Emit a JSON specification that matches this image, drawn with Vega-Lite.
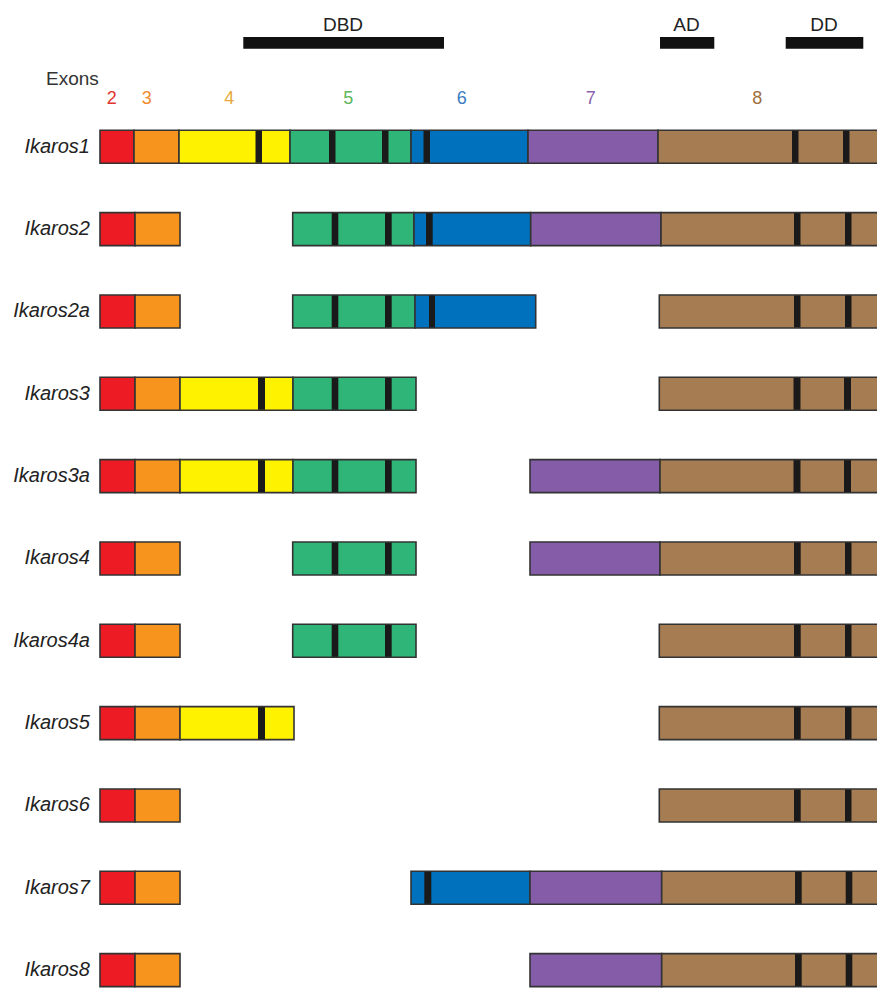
{
  "$schema": "https://vega.github.io/schema/vega-lite/v6.json",
  "width": 877,
  "height": 990,
  "autosize": "none",
  "padding": 0,
  "background": "white",
  "config": {"view": {"stroke": null}, "font": "Liberation Sans"},
  "datasets": {
    "exons": [
      {"isoform": "Ikaros1", "row": 0, "exon": "2", "start": 100, "end": 134},
      {"isoform": "Ikaros1", "row": 0, "exon": "3", "start": 134, "end": 179},
      {"isoform": "Ikaros1", "row": 0, "exon": "4", "start": 179, "end": 290},
      {"isoform": "Ikaros1", "row": 0, "exon": "5", "start": 290, "end": 411},
      {"isoform": "Ikaros1", "row": 0, "exon": "6", "start": 411, "end": 528},
      {"isoform": "Ikaros1", "row": 0, "exon": "7", "start": 528, "end": 658},
      {"isoform": "Ikaros1", "row": 0, "exon": "8", "start": 658, "end": 882},
      {"isoform": "Ikaros2", "row": 1, "exon": "2", "start": 100, "end": 135},
      {"isoform": "Ikaros2", "row": 1, "exon": "3", "start": 135, "end": 180},
      {"isoform": "Ikaros2", "row": 1, "exon": "5", "start": 292.7, "end": 414},
      {"isoform": "Ikaros2", "row": 1, "exon": "6", "start": 414, "end": 530.7},
      {"isoform": "Ikaros2", "row": 1, "exon": "7", "start": 530.7, "end": 661},
      {"isoform": "Ikaros2", "row": 1, "exon": "8", "start": 661, "end": 882},
      {"isoform": "Ikaros2a", "row": 2, "exon": "2", "start": 100, "end": 135},
      {"isoform": "Ikaros2a", "row": 2, "exon": "3", "start": 135, "end": 180},
      {"isoform": "Ikaros2a", "row": 2, "exon": "5", "start": 292.7, "end": 415},
      {"isoform": "Ikaros2a", "row": 2, "exon": "6", "start": 415, "end": 535.7},
      {"isoform": "Ikaros2a", "row": 2, "exon": "8", "start": 659.3, "end": 882},
      {"isoform": "Ikaros3", "row": 3, "exon": "2", "start": 100, "end": 135},
      {"isoform": "Ikaros3", "row": 3, "exon": "3", "start": 135, "end": 180},
      {"isoform": "Ikaros3", "row": 3, "exon": "4", "start": 180, "end": 293},
      {"isoform": "Ikaros3", "row": 3, "exon": "5", "start": 293, "end": 416},
      {"isoform": "Ikaros3", "row": 3, "exon": "8", "start": 659.3, "end": 882},
      {"isoform": "Ikaros3a", "row": 4, "exon": "2", "start": 100, "end": 135},
      {"isoform": "Ikaros3a", "row": 4, "exon": "3", "start": 135, "end": 180},
      {"isoform": "Ikaros3a", "row": 4, "exon": "4", "start": 180, "end": 293},
      {"isoform": "Ikaros3a", "row": 4, "exon": "5", "start": 293, "end": 416},
      {"isoform": "Ikaros3a", "row": 4, "exon": "7", "start": 530, "end": 660},
      {"isoform": "Ikaros3a", "row": 4, "exon": "8", "start": 660, "end": 882},
      {"isoform": "Ikaros4", "row": 5, "exon": "2", "start": 100, "end": 135},
      {"isoform": "Ikaros4", "row": 5, "exon": "3", "start": 135, "end": 180},
      {"isoform": "Ikaros4", "row": 5, "exon": "5", "start": 292.7, "end": 416},
      {"isoform": "Ikaros4", "row": 5, "exon": "7", "start": 530, "end": 660},
      {"isoform": "Ikaros4", "row": 5, "exon": "8", "start": 660, "end": 882},
      {"isoform": "Ikaros4a", "row": 6, "exon": "2", "start": 100, "end": 135},
      {"isoform": "Ikaros4a", "row": 6, "exon": "3", "start": 135, "end": 180},
      {"isoform": "Ikaros4a", "row": 6, "exon": "5", "start": 292.7, "end": 416},
      {"isoform": "Ikaros4a", "row": 6, "exon": "8", "start": 659.3, "end": 882},
      {"isoform": "Ikaros5", "row": 7, "exon": "2", "start": 100, "end": 135},
      {"isoform": "Ikaros5", "row": 7, "exon": "3", "start": 135, "end": 180},
      {"isoform": "Ikaros5", "row": 7, "exon": "4", "start": 180, "end": 294},
      {"isoform": "Ikaros5", "row": 7, "exon": "8", "start": 659.3, "end": 882},
      {"isoform": "Ikaros6", "row": 8, "exon": "2", "start": 100, "end": 135},
      {"isoform": "Ikaros6", "row": 8, "exon": "3", "start": 135, "end": 180},
      {"isoform": "Ikaros6", "row": 8, "exon": "8", "start": 659.3, "end": 882},
      {"isoform": "Ikaros7", "row": 9, "exon": "2", "start": 100, "end": 135},
      {"isoform": "Ikaros7", "row": 9, "exon": "3", "start": 135, "end": 180},
      {"isoform": "Ikaros7", "row": 9, "exon": "6", "start": 411, "end": 530},
      {"isoform": "Ikaros7", "row": 9, "exon": "7", "start": 530, "end": 661.7},
      {"isoform": "Ikaros7", "row": 9, "exon": "8", "start": 661.7, "end": 882},
      {"isoform": "Ikaros8", "row": 10, "exon": "2", "start": 100, "end": 135},
      {"isoform": "Ikaros8", "row": 10, "exon": "3", "start": 135, "end": 180},
      {"isoform": "Ikaros8", "row": 10, "exon": "7", "start": 530, "end": 661.7},
      {"isoform": "Ikaros8", "row": 10, "exon": "8", "start": 661.7, "end": 882}
    ],
    "zf": [
      {"row": 0, "start": 255.5, "end": 262},
      {"row": 0, "start": 329, "end": 335.5},
      {"row": 0, "start": 382, "end": 388.5},
      {"row": 0, "start": 423.5, "end": 430},
      {"row": 0, "start": 792, "end": 798.5},
      {"row": 0, "start": 843, "end": 849.5},
      {"row": 1, "start": 331.7, "end": 338.3},
      {"row": 1, "start": 385, "end": 391.7},
      {"row": 1, "start": 426, "end": 432.7},
      {"row": 1, "start": 794, "end": 800.5},
      {"row": 1, "start": 845, "end": 851.5},
      {"row": 2, "start": 331.7, "end": 338.3},
      {"row": 2, "start": 385, "end": 391.7},
      {"row": 2, "start": 429, "end": 435},
      {"row": 2, "start": 794, "end": 800.5},
      {"row": 2, "start": 845, "end": 851.5},
      {"row": 3, "start": 258, "end": 265},
      {"row": 3, "start": 331.7, "end": 338.3},
      {"row": 3, "start": 385, "end": 391.7},
      {"row": 3, "start": 793.5, "end": 800.5},
      {"row": 3, "start": 844, "end": 851},
      {"row": 4, "start": 258, "end": 265},
      {"row": 4, "start": 331.7, "end": 338.3},
      {"row": 4, "start": 385, "end": 391.7},
      {"row": 4, "start": 793.5, "end": 800.5},
      {"row": 4, "start": 844, "end": 851},
      {"row": 5, "start": 331.7, "end": 338.3},
      {"row": 5, "start": 385, "end": 391.7},
      {"row": 5, "start": 794, "end": 800.7},
      {"row": 5, "start": 845, "end": 851.5},
      {"row": 6, "start": 331.7, "end": 338.3},
      {"row": 6, "start": 385, "end": 391.7},
      {"row": 6, "start": 794, "end": 800.7},
      {"row": 6, "start": 845, "end": 851.5},
      {"row": 7, "start": 258, "end": 265},
      {"row": 7, "start": 794, "end": 800.7},
      {"row": 7, "start": 845, "end": 851.5},
      {"row": 8, "start": 794, "end": 800.7},
      {"row": 8, "start": 845, "end": 851.5},
      {"row": 9, "start": 424.3, "end": 431.3},
      {"row": 9, "start": 795, "end": 801.7},
      {"row": 9, "start": 845.7, "end": 852.3},
      {"row": 10, "start": 795, "end": 801.7},
      {"row": 10, "start": 845.7, "end": 852.3}
    ],
    "domains": [
      {"domain": "DBD", "start": 243.3, "end": 444, "mid": 343},
      {"domain": "AD", "start": 660, "end": 714.3, "mid": 686.5},
      {"domain": "DD", "start": 785.7, "end": 863.3, "mid": 824}
    ],
    "exonLabels": [
      {"label": "2", "pos": 111.7},
      {"label": "3", "pos": 146.7},
      {"label": "4", "pos": 229.3},
      {"label": "5", "pos": 348.3},
      {"label": "6", "pos": 461.7},
      {"label": "7", "pos": 590.7},
      {"label": "8", "pos": 757.3}
    ],
    "isoforms": [
      {"isoform": "Ikaros1", "row": 0},
      {"isoform": "Ikaros2", "row": 1},
      {"isoform": "Ikaros2a", "row": 2},
      {"isoform": "Ikaros3", "row": 3},
      {"isoform": "Ikaros3a", "row": 4},
      {"isoform": "Ikaros4", "row": 5},
      {"isoform": "Ikaros4a", "row": 6},
      {"isoform": "Ikaros5", "row": 7},
      {"isoform": "Ikaros6", "row": 8},
      {"isoform": "Ikaros7", "row": 9},
      {"isoform": "Ikaros8", "row": 10}
    ]
  },
  "encoding": {
    "x": {"type": "quantitative", "scale": {"domain": [0, 877], "nice": false, "zero": false}, "axis": null},
    "y": {"type": "quantitative", "scale": {"domain": [-1.7216, 10.1803], "nice": false, "zero": false, "reverse": true}, "axis": null}
  },
  "layer": [
    {
      "data": {"name": "exons"},
      "mark": {"type": "bar", "height": 33, "stroke": "#333333", "strokeWidth": 1.6, "clip": true},
      "encoding": {
        "x": {"field": "start", "type": "quantitative"},
        "x2": {"field": "end"},
        "y": {"field": "row", "type": "quantitative"},
        "color": {
          "field": "exon", "type": "nominal",
          "scale": {"domain": ["2", "3", "4", "5", "6", "7", "8"], "range": ["#ed1c24", "#f7941d", "#fff200", "#2fb577", "#0071bc", "#855ca8", "#a67c52"]},
          "legend": null
        }
      }
    },
    {
      "data": {"name": "zf"},
      "mark": {"type": "bar", "height": 32, "color": "#1a1a1a", "clip": true},
      "encoding": {
        "x": {"field": "start", "type": "quantitative"},
        "x2": {"field": "end"},
        "y": {"field": "row", "type": "quantitative"}
      }
    },
    {
      "data": {"name": "domains"},
      "mark": {"type": "bar", "height": 11.7, "color": "#111111"},
      "encoding": {
        "x": {"field": "start", "type": "quantitative"},
        "x2": {"field": "end"},
        "y": {"datum": -1.262, "type": "quantitative"}
      }
    },
    {
      "data": {"name": "domains"},
      "mark": {"type": "text", "fontSize": 19, "color": "#222222", "baseline": "middle", "align": "center"},
      "encoding": {
        "x": {"field": "mid", "type": "quantitative"},
        "y": {"datum": -1.481, "type": "quantitative"},
        "text": {"field": "domain"}
      }
    },
    {
      "data": {"values": [{"t": "Exons"}]},
      "mark": {"type": "text", "fontSize": 19, "color": "#333333", "baseline": "middle", "align": "left"},
      "encoding": {
        "x": {"datum": 46, "type": "quantitative"},
        "y": {"datum": -0.82, "type": "quantitative"},
        "text": {"field": "t"}
      }
    },
    {
      "data": {"name": "exonLabels"},
      "mark": {"type": "text", "fontSize": 18, "baseline": "middle", "align": "center"},
      "encoding": {
        "x": {"field": "pos", "type": "quantitative"},
        "y": {"datum": -0.58, "type": "quantitative"},
        "text": {"field": "label"},
        "color": {
          "field": "label", "type": "nominal",
          "scale": {"domain": ["2", "3", "4", "5", "6", "7", "8"], "range": ["#e2332f", "#ee8a2c", "#e6a93a", "#5db65a", "#3b7cbf", "#8a63ad", "#a0703c"]},
          "legend": null
        }
      }
    },
    {
      "data": {"name": "isoforms"},
      "mark": {"type": "text", "fontSize": 20, "fontStyle": "italic", "color": "#222222", "baseline": "middle", "align": "right"},
      "encoding": {
        "x": {"datum": 90, "type": "quantitative"},
        "y": {"field": "row", "type": "quantitative"},
        "text": {"field": "isoform"}
      }
    }
  ],
  "resolve": {"scale": {"color": "independent"}}
}
